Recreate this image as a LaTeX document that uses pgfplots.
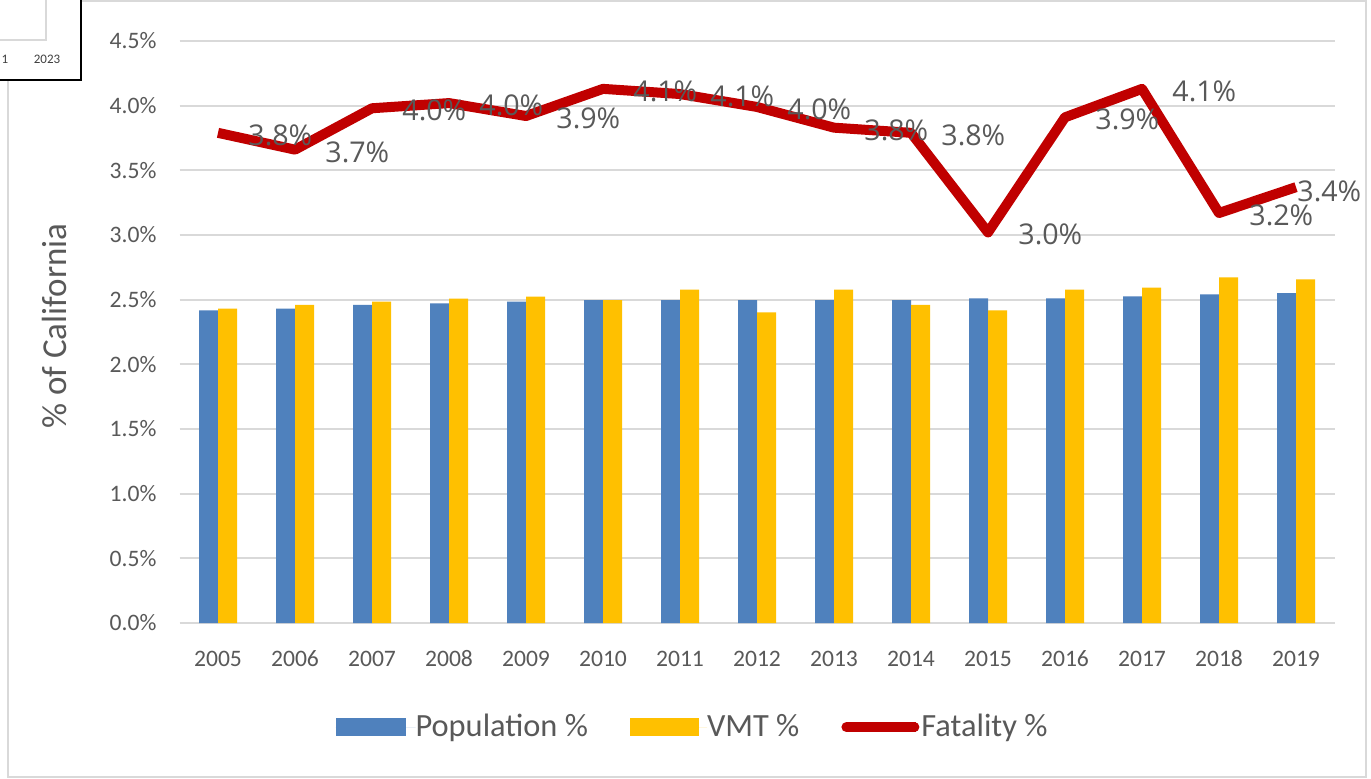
\documentclass[border=0pt]{standalone}
\usepackage{pgfplots}
\pgfplotsset{compat=1.18}
\usepackage{pgfplotstable}
\usepackage{fontspec}
\setmainfont{Carlito}
\newfontfamily\lblfont{Open Sans}
\definecolor{popC}{HTML}{4F81BD}
\definecolor{vmtC}{HTML}{FFC000}
\definecolor{fatC}{HTML}{C00000}
\definecolor{gridC}{HTML}{D9D9D9}
\definecolor{txtC}{HTML}{595959}

\pgfplotstableread{
x pop vmt fat
0 2.418 2.430 3.79
1 2.430 2.459 3.66
2 2.459 2.484 3.98
3 2.472 2.508 4.02
4 2.484 2.523 3.92
5 2.497 2.497 4.13
6 2.497 2.577 4.09
7 2.497 2.402 3.99
8 2.497 2.577 3.83
9 2.497 2.459 3.79
10 2.510 2.418 3.02
11 2.510 2.577 3.91
12 2.526 2.593 4.13
13 2.541 2.673 3.17
14 2.551 2.657 3.37
}\datatable

\pgfplotstableread{
x fat
0 3.79
1 3.66
2 3.98
3 4.02
4 3.92
5 4.13
6 4.09
7 3.99
8 3.83
9 3.79
10 3.02
11 3.91
12 4.13
13 3.17
}\labtable

\pgfplotstableread{
x fat
14 3.37
}\lastlab

\begin{document}
\begin{tikzpicture}
\useasboundingbox (0,0) rectangle (685.5pt,389pt);
\fill[white] (0,0) rectangle (685.5pt,389pt);
% outer chart frame
\draw[gridC, line width=0.6pt] (4pt,0.5pt) rectangle (683pt,388.5pt);
% inset box artifact top-left
\fill[white] (0,349pt) rectangle (40.5pt,389pt);
\draw[gridC, line width=0.6pt] (23pt,389pt) -- (23pt,369pt) -- (0,369pt);
\draw[black, line width=1.1pt] (40.5pt,389pt) -- (40.5pt,349pt) -- (0,349pt);
\node[font=\fontsize{6.5}{7}\selectfont, text=black!75] at (2.5pt,359.5pt) {1};
\node[font=\fontsize{6.5}{7}\selectfont, text=black!75] at (23.5pt,359.5pt) {2023};

\begin{axis}[
  at={(89.75pt,77.5pt)}, anchor=south west,
  scale only axis, width=577.5pt, height=291pt,
  xmin=-0.5, xmax=14.5, ymin=0, ymax=4.5,
  axis line style={draw=none},
  ymajorgrids, grid style={gridC, line width=1.1pt},
  ytick={0,0.5,...,4.5},
  yticklabel={\pgfmathprintnumber[fixed,fixed zerofill,precision=1]{\tick}\%},
  /pgf/number format/assume math mode=true,
  xtick={0,...,14},
  xticklabels={2005,2006,2007,2008,2009,2010,2011,2012,2013,2014,2015,2016,2017,2018,2019},
  major tick length=0pt,
  tick label style={font=\fontsize{11.8}{13}\selectfont, text=txtC},
  yticklabel style={xshift=-8pt},
  xticklabel style={anchor=base, yshift=-21.5pt},
  ylabel={\% of California},
  ylabel style={at={(axis description cs:-0.1085,0.51)}, anchor=center, font=\fontsize{17.5}{19}\selectfont, text=txtC},
  legend style={at={(axis description cs:0.4433,-0.179)}, anchor=center, draw=none, fill=none,
    legend columns=3, font=\fontsize{16.2}{18}\selectfont, text=txtC,
    nodes={inner xsep=0pt},
    /tikz/every even column/.append style={column sep=21pt},
    legend cell align=left},
  clip=false,
]
\addplot[ybar, bar width=9.5pt, bar shift=-4.75pt, fill=popC, draw=none,
  legend image code/.code={\fill[popC] (0pt,-4.5pt) rectangle (35pt,4.5pt); \path (0pt,0pt) -- (40pt,0pt);}]
  table[x=x,y=pop]{\datatable};
\addlegendentry{Population \%}
\addplot[ybar, bar width=9.5pt, bar shift=4.75pt, fill=vmtC, draw=none,
  legend image code/.code={\fill[vmtC] (0pt,-4.5pt) rectangle (34.5pt,4.5pt); \path (0pt,0pt) -- (38.5pt,0pt);}]
  table[x=x,y=vmt]{\datatable};
\addlegendentry{VMT \%}
\addplot[fatC, line width=5pt, line join=round, mark=none,
  legend image code/.code={\draw[fatC, line width=5pt, line cap=round] (0pt,0pt) -- (34pt,0pt); \path (0pt,0pt) -- (35pt,0pt);}]
  table[x=x,y=fat]{\datatable};
\addlegendentry{Fatality \%}
\addplot[draw=none, mark=none, forget plot,
  nodes near coords={\pgfmathprintnumber[fixed,fixed zerofill,precision=1]{\pgfplotspointmeta}\%},
  every node near coord/.style={anchor=west, inner sep=0pt, xshift=15pt, yshift=-1.2pt,
    font=\lblfont\fontsize{14.3}{16}\selectfont, text=txtC}]
  table[x=x,y=fat]{\labtable};
\addplot[draw=none, mark=none, forget plot,
  nodes near coords={\pgfmathprintnumber[fixed,fixed zerofill,precision=1]{\pgfplotspointmeta}\%},
  every node near coord/.style={anchor=west, inner sep=0pt, xshift=0.5pt, yshift=-2pt,
    font=\lblfont\fontsize{14.3}{16}\selectfont, text=txtC}]
  table[x=x,y=fat]{\lastlab};
\end{axis}
\end{tikzpicture}
\end{document}
